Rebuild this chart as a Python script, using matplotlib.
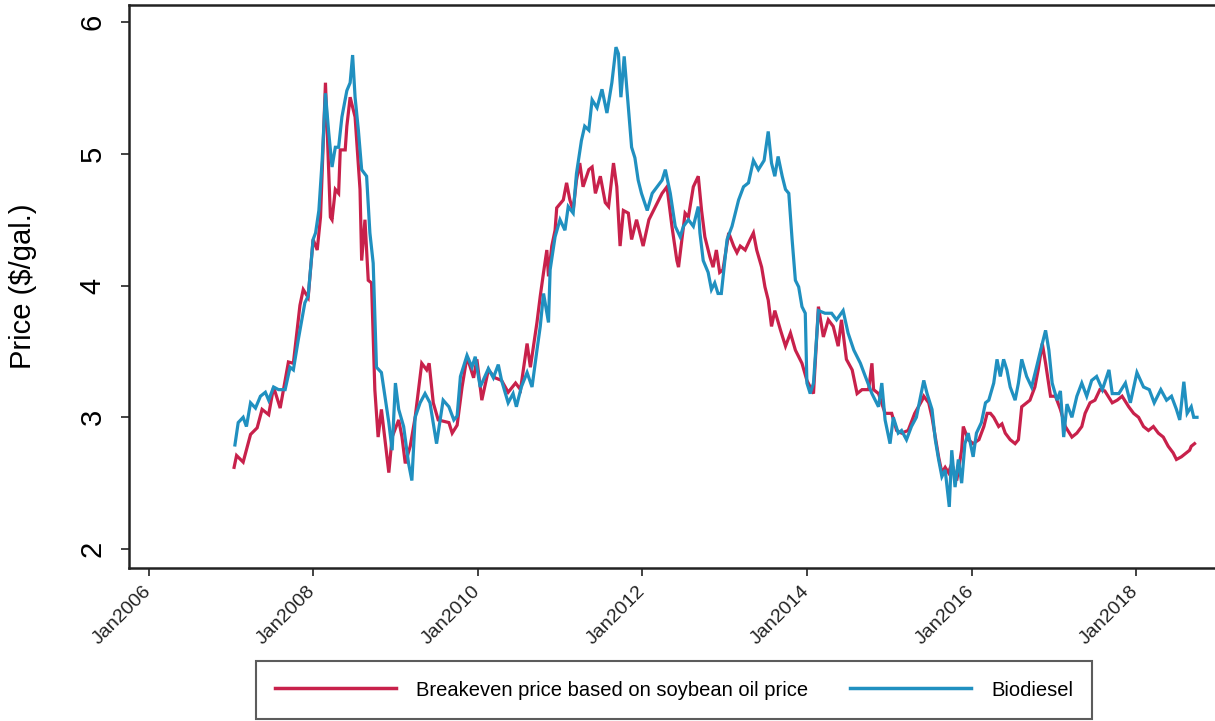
import numpy as np
import matplotlib
matplotlib.use("Agg")
import matplotlib.pyplot as plt
from matplotlib.lines import Line2D

plt.rcParams.update({"font.family": ["Liberation Sans", "DejaVu Sans"]})

RED = "#c8214b"    # breakeven price
BLUE = "#2090c0"   # biodiesel

# weekly-ish prices ($/gal.), x in fractional years
be_year = [
    2007.04, 2007.07, 2007.15, 2007.24, 2007.32, 2007.38, 2007.46, 2007.52, 2007.60, 2007.70,
    2007.76, 2007.84, 2007.88, 2007.94, 2008.00, 2008.05, 2008.09, 2008.15, 2008.21, 2008.23,
    2008.27, 2008.31, 2008.33, 2008.39, 2008.41, 2008.45, 2008.51, 2008.57, 2008.59, 2008.63,
    2008.67, 2008.71, 2008.75, 2008.79, 2008.83, 2008.92, 2008.96, 2009.04, 2009.08, 2009.12,
    2009.18, 2009.24, 2009.32, 2009.38, 2009.41, 2009.46, 2009.52, 2009.65, 2009.69, 2009.75,
    2009.81, 2009.87, 2009.95, 2009.99, 2010.05, 2010.13, 2010.21, 2010.29, 2010.37, 2010.46,
    2010.52, 2010.60, 2010.64, 2010.72, 2010.76, 2010.80, 2010.84, 2010.86, 2010.90, 2010.94,
    2010.96, 2011.04, 2011.08, 2011.12, 2011.16, 2011.20, 2011.24, 2011.28, 2011.35, 2011.39,
    2011.43, 2011.49, 2011.55, 2011.59, 2011.65, 2011.69, 2011.73, 2011.77, 2011.83, 2011.87,
    2011.93, 2012.01, 2012.08, 2012.16, 2012.24, 2012.30, 2012.36, 2012.42, 2012.44, 2012.52,
    2012.56, 2012.62, 2012.68, 2012.72, 2012.76, 2012.82, 2012.86, 2012.90, 2012.94, 2012.98,
    2013.05, 2013.11, 2013.15, 2013.19, 2013.25, 2013.31, 2013.35, 2013.39, 2013.45, 2013.49,
    2013.53, 2013.57, 2013.61, 2013.68, 2013.74, 2013.80, 2013.86, 2013.94, 2014.00, 2014.04,
    2014.08, 2014.14, 2014.20, 2014.26, 2014.32, 2014.38, 2014.42, 2014.48, 2014.55, 2014.61,
    2014.67, 2014.75, 2014.79, 2014.81, 2014.87, 2014.95, 2015.03, 2015.09, 2015.15, 2015.23,
    2015.31, 2015.40, 2015.42, 2015.48, 2015.52, 2015.56, 2015.60, 2015.64, 2015.68, 2015.72,
    2015.76, 2015.82, 2015.88, 2015.90, 2015.96, 2016.02, 2016.09, 2016.15, 2016.19, 2016.23,
    2016.27, 2016.33, 2016.37, 2016.41, 2016.47, 2016.53, 2016.57, 2016.61, 2016.67, 2016.71,
    2016.77, 2016.81, 2016.86, 2016.90, 2016.96, 2017.02, 2017.08, 2017.14, 2017.22, 2017.28,
    2017.34, 2017.38, 2017.44, 2017.50, 2017.56, 2017.62, 2017.71, 2017.77, 2017.83, 2017.91,
    2017.97, 2018.03, 2018.09, 2018.15, 2018.21, 2018.27, 2018.33, 2018.39, 2018.45, 2018.49,
    2018.55, 2018.61, 2018.65, 2018.67, 2018.71,
]
be_price = [
    2.62, 2.71, 2.66, 2.87, 2.92, 3.06, 3.02, 3.23, 3.07, 3.42,
    3.41, 3.85, 3.97, 3.91, 4.35, 4.27, 4.52, 5.54, 4.52, 4.50,
    4.73, 4.70, 5.03, 5.03, 5.21, 5.43, 5.28, 4.73, 4.19, 4.50,
    4.04, 4.02, 3.21, 2.85, 3.06, 2.58, 2.85, 2.98, 2.85, 2.65,
    2.78, 3.00, 3.41, 3.36, 3.41, 3.11, 2.98, 2.96, 2.88, 2.94,
    3.23, 3.46, 3.30, 3.44, 3.13, 3.36, 3.30, 3.28, 3.19, 3.26,
    3.21, 3.56, 3.38, 3.72, 3.92, 4.10, 4.27, 4.07, 4.30, 4.42,
    4.59, 4.65, 4.78, 4.65, 4.57, 4.80, 4.93, 4.75, 4.88, 4.90,
    4.70, 4.83, 4.63, 4.60, 4.93, 4.75, 4.30, 4.57, 4.55, 4.35,
    4.50, 4.30, 4.50, 4.60, 4.70, 4.75, 4.45, 4.19, 4.14, 4.55,
    4.52, 4.75, 4.83, 4.57, 4.37, 4.22, 4.14, 4.27, 4.10, 4.12,
    4.40, 4.30, 4.25, 4.30, 4.27, 4.35, 4.40, 4.27, 4.14, 3.99,
    3.89, 3.69, 3.81, 3.66, 3.54, 3.64, 3.51, 3.41, 3.28, 3.23,
    3.18, 3.84, 3.61, 3.74, 3.69, 3.54, 3.74, 3.44, 3.36, 3.18,
    3.21, 3.21, 3.41, 3.21, 3.18, 3.03, 3.03, 2.90, 2.88, 2.90,
    3.03, 3.13, 3.16, 3.11, 3.00, 2.85, 2.70, 2.58, 2.62, 2.58,
    2.65, 2.52, 2.75, 2.93, 2.83, 2.80, 2.83, 2.93, 3.03, 3.03,
    3.00, 2.93, 2.95, 2.88, 2.83, 2.80, 2.83, 3.08, 3.11, 3.13,
    3.23, 3.36, 3.56, 3.41, 3.16, 3.16, 3.06, 2.93, 2.85, 2.88,
    2.93, 3.03, 3.11, 3.13, 3.21, 3.20, 3.11, 3.13, 3.16, 3.08,
    3.03, 3.00, 2.93, 2.90, 2.93, 2.88, 2.85, 2.78, 2.73, 2.68,
    2.70, 2.73, 2.75, 2.78, 2.80,
]

bd_year = [
    2007.05, 2007.09, 2007.15, 2007.19, 2007.24, 2007.30, 2007.36, 2007.42, 2007.46, 2007.52,
    2007.58, 2007.66, 2007.72, 2007.76, 2007.82, 2007.90, 2007.94, 2008.00, 2008.03, 2008.07,
    2008.11, 2008.15, 2008.19, 2008.23, 2008.27, 2008.31, 2008.35, 2008.41, 2008.45, 2008.48,
    2008.51, 2008.55, 2008.59, 2008.65, 2008.69, 2008.73, 2008.77, 2008.83, 2008.92, 2008.96,
    2009.00, 2009.04, 2009.10, 2009.16, 2009.20, 2009.24, 2009.30, 2009.36, 2009.42, 2009.50,
    2009.58, 2009.65, 2009.71, 2009.75, 2009.79, 2009.87, 2009.93, 2009.97, 2010.03, 2010.13,
    2010.19, 2010.25, 2010.29, 2010.37, 2010.43, 2010.47, 2010.53, 2010.60, 2010.66, 2010.72,
    2010.76, 2010.80, 2010.86, 2010.88, 2010.94, 2011.00, 2011.06, 2011.10, 2011.16, 2011.20,
    2011.26, 2011.30, 2011.35, 2011.39, 2011.45, 2011.51, 2011.57, 2011.63, 2011.68, 2011.71,
    2011.74, 2011.78, 2011.83, 2011.87, 2011.91, 2011.95, 2011.99, 2012.06, 2012.12, 2012.18,
    2012.24, 2012.28, 2012.34, 2012.40, 2012.46, 2012.50, 2012.56, 2012.62, 2012.68, 2012.70,
    2012.74, 2012.80, 2012.84, 2012.88, 2012.92, 2012.96, 2013.03, 2013.09, 2013.13, 2013.17,
    2013.23, 2013.29, 2013.35, 2013.41, 2013.48, 2013.53, 2013.57, 2013.61, 2013.65, 2013.70,
    2013.74, 2013.78, 2013.82, 2013.86, 2013.90, 2013.94, 2013.98, 2014.00, 2014.04, 2014.08,
    2014.14, 2014.22, 2014.30, 2014.36, 2014.44, 2014.50, 2014.57, 2014.65, 2014.71, 2014.79,
    2014.87, 2014.91, 2014.95, 2015.01, 2015.05, 2015.11, 2015.15, 2015.21, 2015.27, 2015.33,
    2015.42, 2015.46, 2015.52, 2015.56, 2015.60, 2015.64, 2015.68, 2015.73, 2015.76, 2015.80,
    2015.84, 2015.88, 2015.92, 2015.96, 2016.02, 2016.06, 2016.12, 2016.17, 2016.21, 2016.27,
    2016.31, 2016.35, 2016.39, 2016.43, 2016.47, 2016.53, 2016.57, 2016.61, 2016.67, 2016.73,
    2016.79, 2016.84, 2016.90, 2016.94, 2016.98, 2017.04, 2017.08, 2017.12, 2017.16, 2017.22,
    2017.28, 2017.34, 2017.40, 2017.46, 2017.52, 2017.59, 2017.67, 2017.71, 2017.79, 2017.87,
    2017.93, 2018.01, 2018.09, 2018.16, 2018.22, 2018.30, 2018.37, 2018.43, 2018.49, 2018.53,
    2018.58, 2018.62, 2018.67, 2018.70, 2018.74,
]
bd_price = [
    2.79, 2.96, 3.00, 2.93, 3.11, 3.07, 3.16, 3.19, 3.13, 3.23,
    3.21, 3.21, 3.38, 3.36, 3.59, 3.87, 3.92, 4.35, 4.40, 4.57,
    4.95, 5.46, 5.16, 4.90, 5.05, 5.05, 5.28, 5.48, 5.54, 5.75,
    5.43, 5.18, 4.88, 4.83, 4.40, 4.17, 3.38, 3.34, 2.96, 2.75,
    3.26, 3.06, 2.93, 2.65, 2.52, 3.00, 3.11, 3.18, 3.11, 2.80,
    3.13, 3.08, 2.98, 3.01, 3.31, 3.47, 3.38, 3.46, 3.23, 3.37,
    3.30, 3.40, 3.28, 3.11, 3.18, 3.08, 3.23, 3.34, 3.23, 3.51,
    3.69, 3.94, 3.72, 4.12, 4.37, 4.50, 4.42, 4.60, 4.55, 4.85,
    5.10, 5.21, 5.18, 5.41, 5.35, 5.49, 5.31, 5.54, 5.81, 5.76,
    5.43, 5.74, 5.36, 5.05, 4.97, 4.80, 4.70, 4.57, 4.70, 4.75,
    4.80, 4.88, 4.70, 4.45, 4.37, 4.45, 4.50, 4.45, 4.60, 4.40,
    4.19, 4.10, 3.97, 4.02, 3.94, 3.94, 4.35, 4.45, 4.55, 4.65,
    4.75, 4.78, 4.95, 4.88, 4.95, 5.17, 4.93, 4.83, 4.98, 4.83,
    4.73, 4.70, 4.35, 4.04, 3.99, 3.84, 3.79, 3.26, 3.18, 3.26,
    3.81, 3.79, 3.79, 3.74, 3.81, 3.64, 3.51, 3.41, 3.31, 3.18,
    3.08, 3.26, 2.98, 2.80, 3.00, 2.88, 2.90, 2.83, 2.93, 3.00,
    3.28, 3.18, 3.06, 2.83, 2.68, 2.55, 2.60, 2.32, 2.75, 2.47,
    2.68, 2.50, 2.80, 2.88, 2.70, 2.88, 2.96, 3.11, 3.13, 3.26,
    3.44, 3.31, 3.44, 3.36, 3.23, 3.13, 3.26, 3.44, 3.31, 3.23,
    3.38, 3.51, 3.66, 3.51, 3.26, 3.13, 3.20, 2.85, 3.10, 3.00,
    3.16, 3.26, 3.16, 3.28, 3.31, 3.21, 3.36, 3.18, 3.18, 3.26,
    3.11, 3.34, 3.23, 3.21, 3.11, 3.21, 3.13, 3.16, 3.06, 2.98,
    3.27, 3.03, 3.08, 3.00, 3.00,
]

tick_years = [2006, 2008, 2010, 2012, 2014, 2016, 2018]
tick_labels = [f"Jan{y}" for y in tick_years]
y_ticks = [2, 3, 4, 5, 6]

fig = plt.figure(figsize=(12.15, 7.21), dpi=100)
ax = fig.add_axes([129 / 1215, 1 - 568 / 721, 1089 / 1215, 563 / 721])

ax.plot(be_year, be_price, color=RED, lw=2.3, solid_joinstyle="miter")
ax.plot(bd_year, bd_price, color=BLUE, lw=2.3, solid_joinstyle="miter")

ax.set_xlim(2005.763, 2018.995)
ax.set_ylim(1.856, 6.13)
ax.set_xticks(tick_years)
ax.set_xticklabels(tick_labels, rotation=45, ha="right", va="center", rotation_mode="anchor",
                   fontsize=14, color="#222222")
ax.set_yticks(y_ticks)
ax.set_yticklabels([str(v) for v in y_ticks], rotation=90, va="center", fontsize=21)
ax.tick_params(axis="both", direction="out", length=6, width=1.2, color="#222222")
ax.tick_params(axis="y", pad=10)
ax.tick_params(axis="x", pad=9)
ax.set_ylabel("Price ($/gal.)", fontsize=21, labelpad=30)

for side in ("left", "bottom", "top"):
    ax.spines[side].set_linewidth(1.8)
    ax.spines[side].set_color("#222222")
ax.spines["right"].set_visible(False)

handles = [Line2D([], [], color=RED, lw=2.5), Line2D([], [], color=BLUE, lw=2.5)]
leg = fig.legend(handles, ["Breakeven price based on soybean oil price", "Biodiesel"],
                 loc="center", bbox_to_anchor=(674 / 1215, 1 - 690 / 721), ncol=2,
                 fontsize=14.5, handlelength=6.0, handletextpad=1.0, columnspacing=2.1,
                 borderpad=0.95, frameon=True, fancybox=False)
leg.get_frame().set_edgecolor("#333333")
leg.get_frame().set_linewidth(1.5)

fig.savefig("out.png", dpi=100)
